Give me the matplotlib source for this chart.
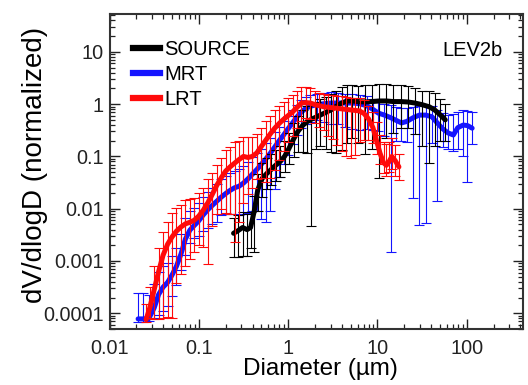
import numpy as np
import matplotlib
matplotlib.use("Agg")
import matplotlib.pyplot as plt
from matplotlib.ticker import LogLocator, FixedLocator, FixedFormatter, NullFormatter
from matplotlib.lines import Line2D

plt.rcParams['font.family'] = ['Liberation Sans', 'DejaVu Sans']

# ---------------- data ----------------
# LRT (red)
lrt_d = [0.0257, 0.0282, 0.0316, 0.0355, 0.0398, 0.0447, 0.0501, 0.0562, 0.0631, 0.0708,
         0.0794, 0.0891, 0.100, 0.112, 0.126, 0.141, 0.158, 0.178, 0.200, 0.224,
         0.251, 0.282, 0.316, 0.355, 0.398, 0.447, 0.501, 0.562, 0.631, 0.708,
         0.794, 0.891, 1.00, 1.12, 1.26, 1.41, 1.58, 1.78, 2.00, 2.24,
         2.51, 2.82, 3.16, 3.55, 3.98, 4.47, 5.01, 5.62, 6.31, 7.08,
         7.94, 8.91, 9.77, 10.7, 11.7, 12.6, 13.5, 14.5, 15.8, 17.4]
lrt_v = [7.6e-5, 1.26e-4, 2.8e-4, 6.3e-4, 1.29e-3, 2.09e-3, 2.88e-3, 3.72e-3, 4.47e-3, 5.13e-3,
         5.5e-3, 6.03e-3, 7.24e-3, 9.33e-3, 0.0129, 0.0186, 0.0275, 0.0389, 0.0525, 0.0631,
         0.0741, 0.0871, 0.100, 0.0955, 0.100, 0.117, 0.155, 0.204, 0.269, 0.347,
         0.427, 0.513, 0.603, 0.708, 0.871, 1.05, 1.07, 1.05, 0.977, 0.933,
         0.891, 0.871, 0.851, 0.832, 0.813, 0.794, 0.776, 0.759, 0.741, 0.661,
         0.525, 0.355, 0.200, 0.115, 0.0759, 0.0676, 0.0794, 0.100, 0.0832, 0.0631]
# error bar extent in decades (upper / lower)
lrt_up = [0.30, 0.40, 0.45, 0.45, 0.45, 0.42, 0.45, 0.45, 0.42, 0.45,
          0.45, 0.42, 0.45, 0.42, 0.45, 0.42, 0.40, 0.38, 0.40, 0.38,
          0.40, 0.36, 0.38, 0.40, 0.38, 0.36, 0.35, 0.36, 0.35, 0.34,
          0.33, 0.34, 0.33, 0.32, 0.31, 0.30, 0.30, 0.28, 0.26, 0.25,
          0.25, 0.24, 0.24, 0.23, 0.24, 0.23, 0.22, 0.24, 0.25, 0.25,
          0.25, 0.30, 0.35, 0.35, 0.40, 0.40, 0.38, 0.35, 0.30, 0.25]
lrt_lo = [0.05, 0.20, 0.55, 0.90, 1.20, 1.40, 1.55, 1.00, 0.90, 0.80,
          0.70, 0.60, 0.55, 0.70, 1.16, 0.60, 0.55, 0.60, 0.80, 0.90,
          1.50, 1.20, 0.90, 0.70, 0.60, 0.50, 0.60, 0.80, 0.85, 0.80,
          0.70, 0.60, 0.50, 0.45, 0.40, 0.35, 0.30, 0.30, 0.35, 0.40,
          0.45, 0.55, 0.60, 0.70, 0.80, 0.90, 0.92, 0.85, 0.60, 0.50,
          0.40, 0.30, 0.25, 0.20, 0.20, 0.20, 0.20, 0.25, 0.30, 0.25]

# MRT (blue)
mrt_d = [0.0209, 0.0240, 0.0275, 0.0316, 0.0355, 0.0398, 0.0447, 0.0501, 0.0562, 0.0631,
         0.0708, 0.0794, 0.0891, 0.100, 0.112, 0.126, 0.141, 0.158, 0.178, 0.200,
         0.224, 0.251, 0.282, 0.316, 0.355, 0.398, 0.447, 0.501, 0.562, 0.631,
         0.708, 0.794, 0.891, 1.00, 1.12, 1.26, 1.41, 1.58, 1.78, 2.09,
         2.51, 3.02, 3.63, 4.37, 5.25, 6.31, 7.59, 8.91, 10.2, 12.0,
         14.1, 16.2, 18.6, 21.4, 25.1, 29.5, 34.7, 40.7, 46.8, 53.7,
         61.7, 70.8, 79.4, 91.2, 102, 115]
mrt_v = [7.8e-5, 7.8e-5, 7.9e-5, 1.26e-4, 2.29e-4, 3.16e-4, 3.89e-4, 5.37e-4, 7.94e-4, 1.35e-3,
         2.63e-3, 3.89e-3, 4.79e-3, 5.89e-3, 7.59e-3, 9.55e-3, 0.0115, 0.0138, 0.0166, 0.0195,
         0.0224, 0.0251, 0.0269, 0.0309, 0.0372, 0.0457, 0.0562, 0.0708, 0.0891, 0.115,
         0.151, 0.200, 0.257, 0.339, 0.437, 0.575, 0.708, 0.832, 0.912, 0.977,
         1.02, 1.05, 1.05, 1.05, 1.05, 1.02, 0.933, 0.794, 0.676, 0.617,
         0.550, 0.490, 0.437, 0.468, 0.550, 0.617, 0.617, 0.575, 0.437, 0.339,
         0.282, 0.257, 0.355, 0.398, 0.389, 0.347]
mrt_up = [0.50, 0.50, 0.45, 0.45, 0.42, 0.40, 0.38, 0.36, 0.35, 0.38,
          0.40, 0.36, 0.34, 0.33, 0.34, 0.33, 0.34, 0.33, 0.34, 0.33,
          0.33, 0.32, 0.33, 0.32, 0.33, 0.32, 0.31, 0.30, 0.30, 0.29,
          0.28, 0.27, 0.26, 0.25, 0.24, 0.23, 0.22, 0.22, 0.21, 0.20,
          0.20, 0.22, 0.20, 0.18, 0.17, 0.17, 0.18, 0.20, 0.22, 0.22,
          0.24, 0.26, 0.28, 0.25, 0.20, 0.18, 0.18, 0.20, 0.25, 0.30,
          0.35, 0.40, 0.30, 0.28, 0.27, 0.30]
mrt_lo = [0.05, 0.05, 0.05, 0.20, 0.40, 0.45, 0.45, 0.40, 0.35, 0.30,
          0.30, 0.25, 0.25, 0.30, 0.30, 0.35, 0.35, 0.40, 0.35, 0.40,
          0.45, 0.50, 0.55, 0.60, 0.65, 0.70, 0.80, 1.05, 1.20, 1.10,
          0.80, 0.70, 0.55, 0.50, 0.40, 0.35, 0.30, 0.30, 0.30, 0.30,
          0.35, 0.40, 0.40, 0.45, 0.50, 0.50, 0.45, 0.40, 0.35, 0.40,
          2.56, 0.40, 0.35, 0.40, 1.54, 2.10, 2.07, 0.50, 1.50, 0.35,
          0.30, 0.30, 0.40, 0.60, 1.07, 0.30]

# SOURCE (black)
src_d = [0.245, 0.275, 0.309, 0.347, 0.380, 0.417, 0.457, 0.513, 0.575, 0.646,
         0.724, 0.813, 0.912, 1.02, 1.15, 1.29, 1.45, 1.62, 1.82, 2.04,
         2.29, 2.63, 3.02, 3.47, 3.98, 4.57, 5.25, 6.03, 7.24, 8.71,
         10.5, 12.6, 15.1, 18.2, 21.9, 26.3, 31.6, 38.0, 43.7, 50.1, 57.5]
src_v = [3.39e-3, 3.80e-3, 4.37e-3, 3.98e-3, 4.37e-3, 8.91e-3, 0.0229, 0.0380, 0.0468, 0.0562,
         0.0676, 0.0794, 0.100, 0.141, 0.214, 0.302, 0.389, 0.457, 0.513, 0.562,
         0.617, 0.692, 0.776, 0.912, 1.05, 1.15, 1.15, 1.12, 1.10, 1.12,
         1.15, 1.15, 1.12, 1.12, 1.10, 1.05, 0.977, 0.891, 0.776, 0.631, 0.501]
src_up = [0.30, 0.30, 0.30, 0.30, 0.30, 0.30, 0.30, 0.30, 0.30, 0.30,
          0.30, 0.30, 0.30, 0.30, 0.30, 0.30, 0.30, 0.30, 0.30, 0.30,
          0.30, 0.30, 0.30, 0.30, 0.30, 0.30, 0.30, 0.30, 0.32, 0.32,
          0.32, 0.32, 0.32, 0.32, 0.30, 0.28, 0.27, 0.30, 0.33, 0.30, 0.30]
src_lo = [0.45, 0.50, 0.55, 0.50, 0.40, 0.77, 0.40, 0.35, 0.30, 0.30,
          0.30, 0.30, 0.30, 0.30, 0.35, 0.40, 0.50, 0.60, 2.05, 0.60,
          0.60, 0.70, 0.80, 0.90, 0.90, 0.80, 0.70, 0.80, 1.00, 0.90,
          1.48, 0.70, 0.60, 0.50, 0.50, 0.60, 0.80, 1.08, 0.70, 0.50, 0.40]

series = [
    ("MRT", mrt_d, mrt_v, mrt_lo, mrt_up, "#1414ff"),
    ("SOURCE", src_d, src_v, src_lo, src_up, "#000000"),
    ("LRT", lrt_d, lrt_v, lrt_lo, lrt_up, "#ff0a0a"),
]

# ---------------- figure ----------------
fig = plt.figure(figsize=(5.28, 3.85), dpi=100)
ax = fig.add_axes([109.5 / 528, 1 - 329 / 385, (523.3 - 109.5) / 528, (329 - 14) / 385])

for name, d, v, lo, up, col in series:
    d = np.asarray(d)
    v = np.asarray(v)
    lo_abs = v - v / 10 ** np.asarray(lo)
    up_abs = v * 10 ** np.asarray(up) - v
    ax.errorbar(d, v, yerr=[lo_abs, up_abs], fmt='none', ecolor=col,
                elinewidth=0.8, capsize=3.6, capthick=0.8)
    ax.plot(d, v, color=col, lw=3.6, solid_capstyle='round', solid_joinstyle='round')

ax.set_xscale('log')
ax.set_yscale('log')
ax.set_xlim(0.01, 430)
ax.set_ylim(5.0e-5, 53)

xt = [0.01, 0.1, 1, 10, 100]
xtl = ['0.01', '0.1', '1', '10', '100']
yt = [1e-4, 1e-3, 1e-2, 0.1, 1, 10]
ytl = ['0.0001', '0.001', '0.01', '0.1', '1', '10']
ax.xaxis.set_major_locator(FixedLocator(xt))
ax.xaxis.set_major_formatter(FixedFormatter(xtl))
ax.yaxis.set_major_locator(FixedLocator(yt))
ax.yaxis.set_major_formatter(FixedFormatter(ytl))
ax.xaxis.set_minor_locator(LogLocator(base=10, subs=np.arange(2, 10), numticks=20))
ax.yaxis.set_minor_locator(LogLocator(base=10, subs=np.arange(2, 10), numticks=20))
ax.xaxis.set_minor_formatter(NullFormatter())
ax.yaxis.set_minor_formatter(NullFormatter())

ax.tick_params(which='both', direction='in', top=True, right=True, colors='#222222')
ax.tick_params(which='major', length=7.2, width=1.0, labelsize=14.3)
ax.tick_params(axis='x', which='major', pad=7)
ax.tick_params(axis='y', which='major', pad=4)
ax.tick_params(which='minor', length=3.6, width=0.9)
for s in ax.spines.values():
    s.set_linewidth(1.5)
    s.set_color('#333333')

ax.set_xlabel('Diameter (µm)', fontsize=17.5)
ax.set_ylabel('dV/dlogD (normalized)', fontsize=20)
ax.xaxis.set_label_coords(0.509, -0.092)
ax.yaxis.set_label_coords(-0.149, 0.52)

handles = [Line2D([], [], color='#000000', lw=4.5),
           Line2D([], [], color='#1414ff', lw=4.5),
           Line2D([], [], color='#ff0a0a', lw=4.5)]
ax.legend(handles, ['SOURCE', 'MRT', 'LRT'], loc='upper left',
          bbox_to_anchor=(0.057, 0.918), frameon=False, fontsize=14.5,
          handlelength=1.35, handletextpad=0.2, labelspacing=0.3,
          borderpad=0, borderaxespad=0)

ax.text(0.951, 0.885, 'LEV2b', transform=ax.transAxes, ha='right', va='center',
        fontsize=14.5)

fig.savefig('out.png', dpi=100)
